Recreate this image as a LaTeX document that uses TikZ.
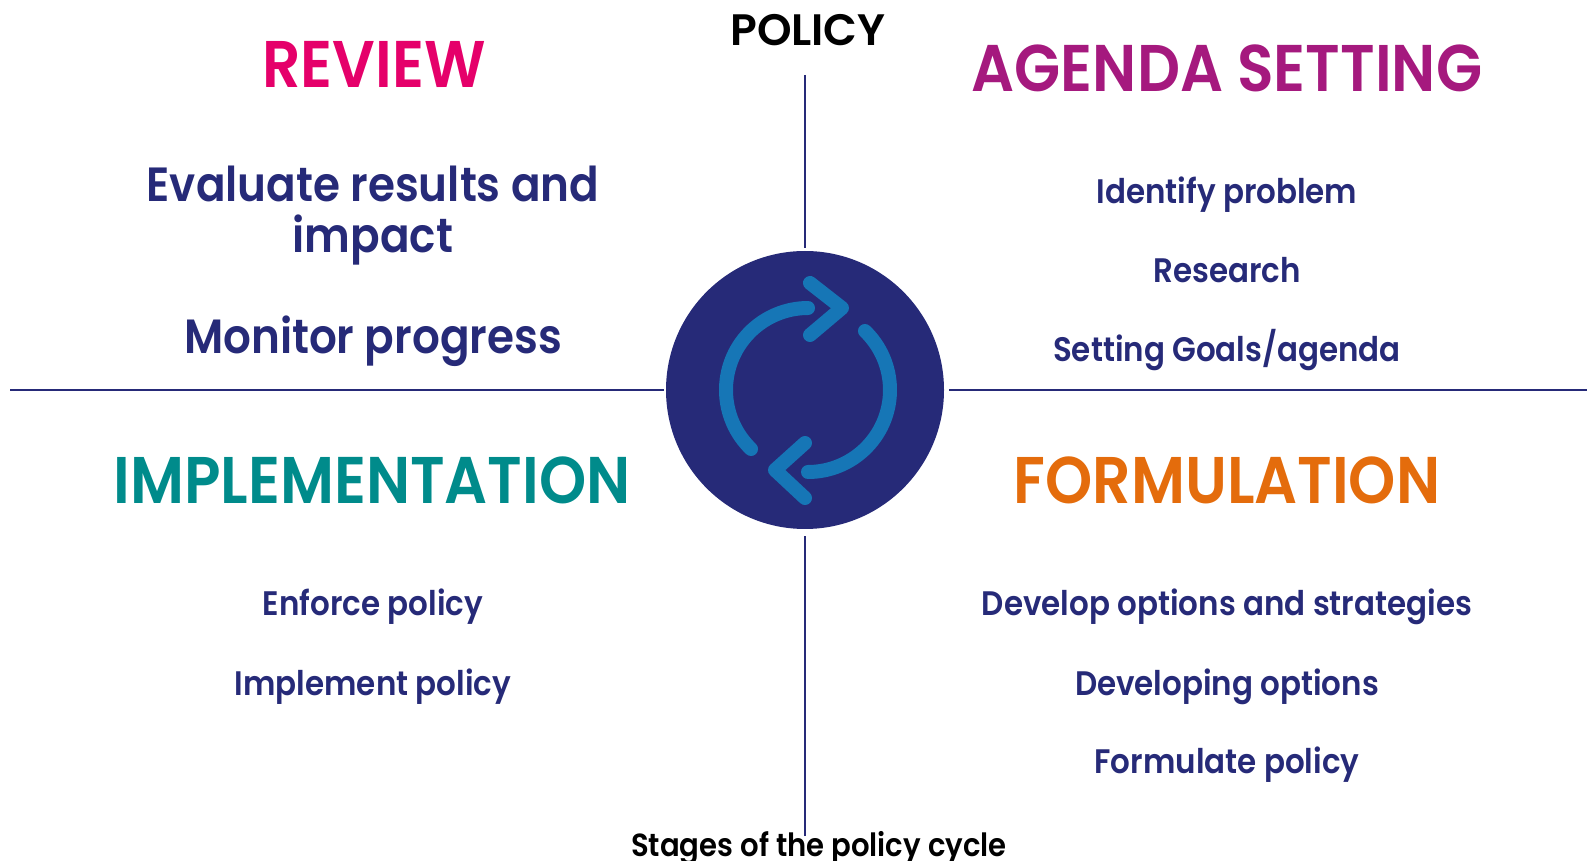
\documentclass[tikz,border=0pt]{standalone}
\usepackage{fontspec}
\setmainfont{Poppins}[UprightFont=* SemiBold, BoldFont=* Bold, FakeStretch=0.91]
\newfontfamily\widefont{Poppins}[UprightFont=* SemiBold]
\usepackage{tikz}

\definecolor{navy}{RGB}{38,42,120}
\definecolor{loopblue}{RGB}{22,118,182}
\definecolor{revcol}{RGB}{229,0,106}
\definecolor{agcol}{RGB}{165,25,126}
\definecolor{impcol}{RGB}{0,139,139}
\definecolor{formcol}{RGB}{228,108,12}

\begin{document}
\begin{tikzpicture}[x=0.5pt, y=0.5pt,
        head/.style={anchor=base, font=\fontsize{33}{36}\selectfont},
        item/.style={anchor=base, text=navy, font=\fontsize{17}{20}\selectfont},
        big/.style={anchor=base, text=navy, font=\fontsize{24}{26}\selectfont},
        rule/.style={navy, line width=1pt},
        loop/.style={loopblue, line width=7pt, line cap=round, line join=round}]
        \useasboundingbox (0,0) rectangle (1587,-861);

        % centre disc and the axes
        \node[circle, fill=navy, minimum size=139pt, inner sep=0pt] (C) at (805,-390) {};
        \coordinate (L) at (10,-390);
        \coordinate (R) at (1587,-390);
        \coordinate (T) at (805,-75);
        \coordinate (B) at (805,-836);
        \draw[rule, shorten >=1pt] (L) -- (C.west);
        \draw[rule, shorten >=2.5pt] (R) -- (C.east);
        \draw[rule, shorten >=1.5pt] (T) -- (C.north);
        \draw[rule, shorten >=3.5pt] (B) -- (C.south);

        % the two turning arrows
        \begin{scope}[shift={(808,-390)}]
            \draw[loop] (226:82) arc[start angle=226, end angle=90, radius=82];
            \draw[loop] (2,107) -- (34,82) -- (2,55);
            \draw[loop] (46:82) arc[start angle=46, end angle=-90, radius=82];
            \draw[loop] (-3,-53) -- (-33,-80) -- (-3,-108);
        \end{scope}

        \node[anchor=base, font=\widefont\fontsize{22}{24}\selectfont] (P) at (808,-46) {POLICY};
        \node[anchor=base, font=\fontsize{16}{18}\selectfont] (S) at (819,-856) {Stages of the policy cycle};

        % review
        \node[head, text=revcol] (RV) at (374,-88) {REVIEW};
        \node[big] (E1) at (373,-202) {Evaluate results and};
        \node[big] (E2) at (373,-253) {impact};
        \node[big] (M) at (373,-354) {Monitor progress};

        % agenda setting
        \node[head, text=agcol] (AS) at (1227,-92) {AGENDA SETTING};
        \node[item] (A1) at (1227,-204) {Identify problem};
        \node[item] (A2) at (1227,-283) {Research};
        \node[item] (A3) at (1227,-362) {Setting Goals/agenda};

        % implementation
        \node[head, text=impcol] (IM) at (372,-503) {IMPLEMENTATION};
        \node[item] (I1) at (373,-616) {Enforce policy};
        \node[item] (I2) at (373,-695) {Implement policy};

        % formulation
        \node[head, text=formcol] (FO) at (1227,-503) {FORMULATION};
        \node[item] (F1) at (1227,-615) {Develop options and strategies};
        \node[item] (F2) at (1227,-695) {Developing options};
        \node[item] (F3) at (1227,-773) {Formulate policy};
\end{tikzpicture}
\end{document}
